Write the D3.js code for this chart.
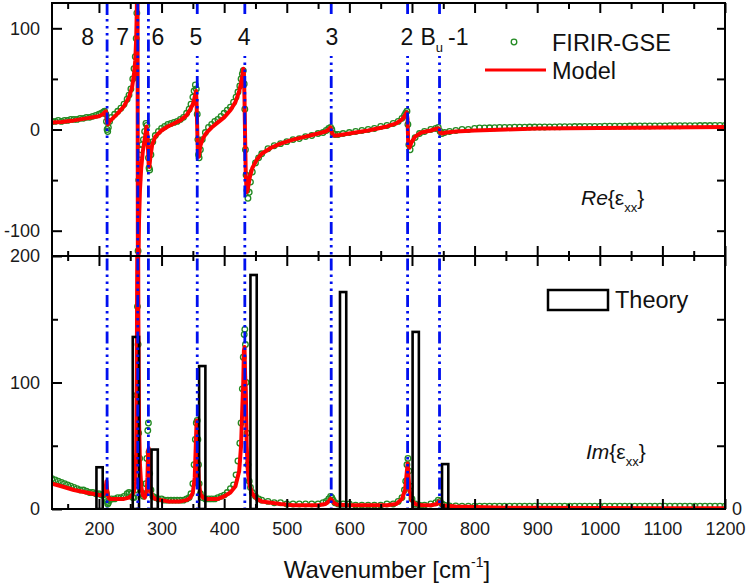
<!DOCTYPE html>
<html>
<head>
<meta charset="utf-8">
<script src="https://cdn.jsdelivr.net/npm/d3@7"></script>
<style>
  body { margin: 0; background: #fff; }
  svg { font-family: "Liberation Sans", Arial, sans-serif; }
</style>
</head>
<body>
<svg id="chart" width="747" height="584"></svg>
<script>
const wnData = [
  125,130,135,140,145,150,155,160,165,170,175,180,185,190,195,200,
  204,207,209,211,212,213,214,215,217,220,225,230,235,240,245,248,
  251,254,256,258,259.5,260.5,261.5,262.5,263.5,265,267,269,271,273,275,276.5,278,279,280,281,283,286,290,
  295,300,305,310,315,320,325,330,335,340,344,
  347,350,352,354,355.5,357,358,359,360,362,365,
  370,375,380,385,390,395,400,405,410,415,419,422,425,427,429,430.5,432,433,434,435,436.5,438,440,442,445,
  450,455,460,470,480,490,500,510,520,530,540,550,558,563,567,570,572,574,577,582,590,600,
  610,620,630,640,650,660,670,678,684,688,690,692,693.5,695,697,700,705,712,720,730,738,742,745,748,752,760,770,780,790,800,
  808,816,824,832,840,848,856,864,872,880,
  888,896,904,912,920,928,936,944,952,960,
  968,976,984,992,1000,1008,1016,1024,1032,1040,
  1048,1056,1064,1072,1080,1088,1096,1104,1112,1120,
  1128,1136,1144,1152,1160,1168,1176,1184,1192,1200
];
const reData = [
  8,8,9,8,9,9,10,10,10,11,11,12,12,13,14,15,
  16,17,18,15,8,0,-2,2,8,12,15,18,21,25,30,34,
  40,50,60,72,90,115,150,-120,-50,-30,-20,-15,-10,-2,6,4,-12,-28,-38,-40,-25,-12,-6,
  -2,1,3,5,6,7,8,10,12,16,20,
  25,32,38,44,40,15,-10,-25,-28,-20,-10,
  -3,2,5,8,10,13,16,19,22,27,32,37,43,50,55,58,45,20,-20,-45,-60,-68,-62,-52,-42,
  -33,-28,-24,-19,-16,-14,-12,-10,-9,-7,-6,-4,-3,-1,1,2,0,-4,-5,-5,-4,-3,
  -2,-1,0,1,3,4,6,8,11,14,16,18,5,-15,-20,-14,-8,-4,-2,0,1,2,-2,-4,-3,-2,-1,0,0,1,
  1.5,1.5,1.7,1.8,2.0,2.0,2.1,2.2,2.2,2.3,
  2.4,2.4,2.5,2.5,2.6,2.6,2.7,2.8,2.8,2.9,
  2.9,3.0,3.0,3.1,3.1,3.2,3.2,3.3,3.3,3.3,
  3.4,3.4,3.5,3.5,3.5,3.6,3.6,3.6,3.7,3.7,
  3.7,3.8,3.8,3.8,3.9,3.9,3.9,4.0,4.0,4.0
];
const imData = [
  24,23,22,21,20,19,18,17,16,15,15,14,13,13,12,12,
  11,11,12,14,12,6,4,5,7,8,8,9,9,10,12,13,
  12,9,9,15,40,90,160,130,60,40,20,12,10,12,20,40,62,68,45,28,15,10,9,
  8,8,7,7,7,7,7,7,7,8,9,
  12,20,35,55,68,70,55,35,20,12,9,
  8,8,8,8,9,10,11,13,16,19,27,38,52,68,95,120,138,142,130,100,60,35,22,17,13,
  10,8,7,6,5,5,4,4,4,4,4,4,5,6,8,10,9,7,5,4,4,4,
  3,3,3,3,3,4,4,6,9,15,22,35,40,30,18,8,4,3,3,4,5,7,6,4,3,2.5,2.5,2.3,2.3,2.2,
  2.2,2.3,2.2,2.2,2.3,2.2,2.2,2.3,2.2,2.2,
  2.2,2.3,2.2,2.2,2.2,2.3,2.2,2.2,2.2,2.3,
  2.2,2.2,2.2,2.3,2.2,2.2,2.2,2.3,2.2,2.2,
  2.2,2.3,2.2,2.2,2.2,2.3,2.2,2.2,2.2,2.3,
  2.2,2.2,2.2,2.3,2.2,2.2,2.2,2.3,2.2,2.2
];

// ---- model fit ----
const wnModel = [
  125,140,160,180,200,206,209,211,212,213,
  214.5,217,222,230,240,248,253,256,258,259.5,
  260.5,261.5,262.3,263,264,265.5,267.5,270,273,276,
  277.5,278.5,279.5,280.5,282,285,290,300,310,320,
  330,340,346,350,353,355,356,357,358,359.5,
  362,366,372,380,390,400,410,418,424,427,
  429,430.5,431.5,432.5,433.5,434.5,436,438,441,445,
  452,460,475,490,510,530,550,562,567,570,
  572,575,580,600,630,660,675,684,689,691.5,
  693,694,696,699,705,715,730,740,743,745,
  748,755,770,800,850,900,1000,1100,1200
];
const reModel = [
  7,7.5,9,11,13,15,17,18,14,7,
  5,8,11,16,23,32,42,55,68,90,
  120,200,-200,-140,-90,-60,-38,-22,-10,3,
  -5,-22,-36,-37,-28,-15,-7,-1,3,6,
  9,14,20,25,32,38,25,0,-24,-27,
  -16,-9,-3,2,7,12,19,27,38,46,
  53,60,55,30,-10,-45,-62,-58,-47,-38,
  -30,-24,-18,-14,-10,-7,-4,-2,0,2,
  -3,-6,-6,-4,-1,3,6,10,14,17,
  10,-15,-18,-13,-7,-3,-1,1,1,-3,
  -4,-3,-2,-1,0,1,1.5,2,2.5
];
const imModel = [
  20,18,15,13,11,11,13,18,22,15,
  10,8,8,8,8,9,11,14,22,45,
  110,250,260,150,70,35,18,11,9,12,
  25,45,48,30,16,10,8,7,6,6,
  6,7,9,13,25,55,70,70,45,22,
  12,9,8,8,8,10,13,18,30,50,
  80,100,125,128,105,95,50,28,18,12,
  8,6,5,4,3,3,3,4,6,8,
  7,5,3.5,3,3,3,4,8,15,28,
  36,30,15,7,4,3,3,4,6,5,
  3,2.5,2,1.5,1,1,0.8,0.6,0.5
];

// ---- calculated (theory) modes ----
const theoryWn  = [201, 259, 289, 365, 447, 590, 706, 753];
const theoryVal = [33, 136, 47, 113, 185, 171.5, 140, 35.5];

// ---- fitted Bu modes (vertical markers) ----
const modeWn     = [213, 262, 279, 357, 433, 571, 693, 744];
const modeLabels = ["8", "7", "6", "5", "4", "3", "2", "Bu-1"];
const modeLabelWn = [182, 238, 294, 355, 432, 572, 692, 752];

const xMajor = [200, 300, 400, 500, 600, 700, 800, 900, 1000, 1100, 1200];
const xMinor = [150, 250, 350, 450, 550, 650, 750, 850, 950, 1050, 1150];

// ---- layout ----
const plot = { left: 52, right: 725, top: 3, mid: 256, bottom: 509 };
const svg = d3.select("#chart");

const x = d3.scaleLinear().domain([125, 1200]).range([plot.left, plot.right]);
const yRe = d3.scaleLinear().domain([-125, 125]).range([plot.mid, plot.top]);
const yIm = d3.scaleLinear().domain([0, 200]).range([plot.bottom, plot.mid]);

const defs = svg.append("defs");
defs.append("clipPath").attr("id", "clipRe").append("rect")
  .attr("x", plot.left).attr("y", plot.top)
  .attr("width", plot.right - plot.left).attr("height", plot.mid - plot.top);
defs.append("clipPath").attr("id", "clipIm").append("rect")
  .attr("x", plot.left).attr("y", plot.mid)
  .attr("width", plot.right - plot.left).attr("height", plot.bottom - plot.mid);

const n = Math.min(wnData.length, reData.length, imData.length);
const dataRe = d3.range(n).map(i => [wnData[i], reData[i]]);
const dataIm = d3.range(n).map(i => [wnData[i], imData[i]]);
const modRe = d3.zip(wnModel, reModel);
const modIm = d3.zip(wnModel, imModel);

const green = "#228a22", red = "#ff0000", blue = "#0010f0";
const dotR = 2.8, dotW = 1.3;

// top panel: Re
const gRe = svg.append("g").attr("clip-path", "url(#clipRe)");
gRe.selectAll("circle").data(dataRe).join("circle")
  .attr("cx", d => x(d[0])).attr("cy", d => yRe(d[1])).attr("r", dotR)
  .attr("fill", "none").attr("stroke", green).attr("stroke-width", dotW);
gRe.append("path").datum(modRe)
  .attr("d", d3.line().x(d => x(d[0])).y(d => yRe(d[1])))
  .attr("fill", "none").attr("stroke", red).attr("stroke-width", 4)
  .attr("stroke-linejoin", "round");

// bottom panel: Im
const gIm = svg.append("g").attr("clip-path", "url(#clipIm)");
gIm.selectAll("circle").data(dataIm).join("circle")
  .attr("cx", d => x(d[0])).attr("cy", d => yIm(d[1])).attr("r", dotR)
  .attr("fill", "none").attr("stroke", green).attr("stroke-width", dotW);
gIm.append("path").datum(modIm)
  .attr("d", d3.line().x(d => x(d[0])).y(d => yIm(d[1])))
  .attr("fill", "none").attr("stroke", red).attr("stroke-width", 4)
  .attr("stroke-linejoin", "round");

// theory bars
svg.append("g").attr("clip-path", "url(#clipIm)")
  .selectAll("rect").data(d3.zip(theoryWn, theoryVal)).join("rect")
  .attr("x", d => x(d[0] - 5)).attr("width", d => x(d[0] + 5) - x(d[0] - 5))
  .attr("y", d => yIm(d[1])).attr("height", d => yIm(0) - yIm(d[1]))
  .attr("fill", "none").attr("stroke", "#000").attr("stroke-width", 2.6);

// vertical mode markers
svg.append("g").selectAll("line").data(modeWn).join("line")
  .attr("x1", d => x(d)).attr("x2", d => x(d))
  .attr("y1", plot.top).attr("y2", plot.bottom)
  .attr("stroke", blue).attr("stroke-width", 2.8)
  .attr("stroke-dasharray", "12,4,2.5,4.5,2.5,4.5,2.5,4");

// mode labels with white background
const lab = svg.append("g").attr("font-size", 23).attr("fill", "#111");
modeLabels.forEach((t, i) => {
  const cx = x(modeLabelWn[i]);
  const g = lab.append("g");
  const bg = g.append("rect").attr("fill", "#fff");
  const txt = g.append("text").attr("x", cx).attr("y", 45).attr("text-anchor", "middle");
  if (t === "Bu-1") {
    txt.append("tspan").text("B");
    txt.append("tspan").attr("font-size", 13).attr("dy", 7).text("u");
    txt.append("tspan").attr("dy", -7).attr("dx", 5).text("-1");
  } else {
    txt.text(t);
  }
  const bb = txt.node().getBBox();
  bg.attr("x", bb.x - 1).attr("width", bb.width + 2).attr("y", 14).attr("height", 42);
});

// legends
const leg = svg.append("g").attr("font-size", 23.5).attr("fill", "#111");
leg.append("circle").attr("cx", 514).attr("cy", 42).attr("r", dotR)
  .attr("fill", "none").attr("stroke", green).attr("stroke-width", dotW);
leg.append("text").attr("x", 552).attr("y", 50.5).text("FIRIR-GSE");
leg.append("line").attr("x1", 485).attr("x2", 546).attr("y1", 70).attr("y2", 70)
  .attr("stroke", red).attr("stroke-width", 3);
leg.append("text").attr("x", 552).attr("y", 79).text("Model");
leg.append("rect").attr("x", 548).attr("y", 290).attr("width", 60).attr("height", 20)
  .attr("fill", "#fff").attr("stroke", "#000").attr("stroke-width", 2.5);
leg.append("text").attr("x", 615).attr("y", 308).text("Theory");

// panel annotations
function epsLabel(xp, yp, part) {
  const t = svg.append("text").attr("x", xp).attr("y", yp).attr("font-size", 21).attr("fill", "#111");
  t.append("tspan").attr("font-style", "italic").text(part);
  t.append("tspan").text("{ε");
  t.append("tspan").attr("font-size", 13).attr("dy", 7).text("xx");
  t.append("tspan").attr("dy", -7).text("}");
}
epsLabel(581, 205, "Re");
epsLabel(586, 459, "Im");

// frame and axes
const axes = svg.append("g");
axes.append("rect").attr("x", plot.left).attr("y", plot.top)
  .attr("width", plot.right - plot.left).attr("height", plot.bottom - plot.top)
  .attr("fill", "none").attr("stroke", "#000").attr("stroke-width", 2);
axes.append("line").attr("x1", plot.left).attr("x2", plot.right)
  .attr("y1", plot.mid).attr("y2", plot.mid).attr("stroke", "#000").attr("stroke-width", 2);

function addAxis(axis, tx, ty) {
  const g = axes.append("g").attr("transform", `translate(${tx},${ty})`).call(axis);
  g.select(".domain").remove();
  g.selectAll(".tick line").attr("stroke", "#000").attr("stroke-width", 2);
  g.selectAll(".tick text").attr("fill", "#1a1a1a").attr("font-size", 18)
    .attr("font-family", "Liberation Sans, Arial, sans-serif");
  return g;
}
// plain hyphen for negatives, as in the original figure
const fmt = d => String(d);

// x axes
addAxis(d3.axisBottom(x).tickValues(xMajor).tickSize(-10).tickPadding(13).tickFormat(fmt), 0, plot.bottom);
addAxis(d3.axisBottom(x).tickValues(xMinor).tickSize(-5).tickFormat(""), 0, plot.bottom);
addAxis(d3.axisTop(x).tickValues(xMajor).tickSize(-10).tickFormat(""), 0, plot.top);
addAxis(d3.axisTop(x).tickValues(xMinor).tickSize(-6).tickFormat(""), 0, plot.top);
addAxis(d3.axisBottom(x).tickValues(xMajor).tickSize(-10).tickFormat(""), 0, plot.mid);
addAxis(d3.axisBottom(x).tickValues(xMinor).tickSize(-5).tickFormat(""), 0, plot.mid);
addAxis(d3.axisTop(x).tickValues(xMajor).tickSize(-10).tickFormat(""), 0, plot.mid);
addAxis(d3.axisTop(x).tickValues(xMinor).tickSize(-5).tickFormat(""), 0, plot.mid);

// y axes
addAxis(d3.axisLeft(yRe).tickValues([-100, 0, 100]).tickSize(-10).tickPadding(12).tickFormat(fmt), plot.left, 0);
addAxis(d3.axisLeft(yRe).tickValues([-50, 50]).tickSize(-6).tickFormat(""), plot.left, 0);
addAxis(d3.axisLeft(yIm).tickValues([0, 100, 200]).tickSize(-10).tickPadding(12).tickFormat(fmt), plot.left, 0);
addAxis(d3.axisLeft(yIm).tickValues([50, 150]).tickSize(-6).tickFormat(""), plot.left, 0);
addAxis(d3.axisRight(yRe).tickValues([-100, -50, 0, 50, 100]).tickSize(-8).tickFormat(""), plot.right, 0);
addAxis(d3.axisRight(yIm).tickValues([50, 100, 150]).tickSize(-8).tickFormat(""), plot.right, 0);
addAxis(d3.axisRight(yIm).tickValues([0]).tickSize(0).tickPadding(7).tickFormat(fmt), plot.right, 0);

// x title
const title = svg.append("text").attr("x", 387).attr("y", 578)
  .attr("text-anchor", "middle").attr("font-size", 24).attr("fill", "#111");
title.append("tspan").text("Wavenumber [cm");
title.append("tspan").attr("font-size", 14).attr("dy", -11).text("-1");
title.append("tspan").attr("dy", 11).text("]");
</script>
</body>
</html>
